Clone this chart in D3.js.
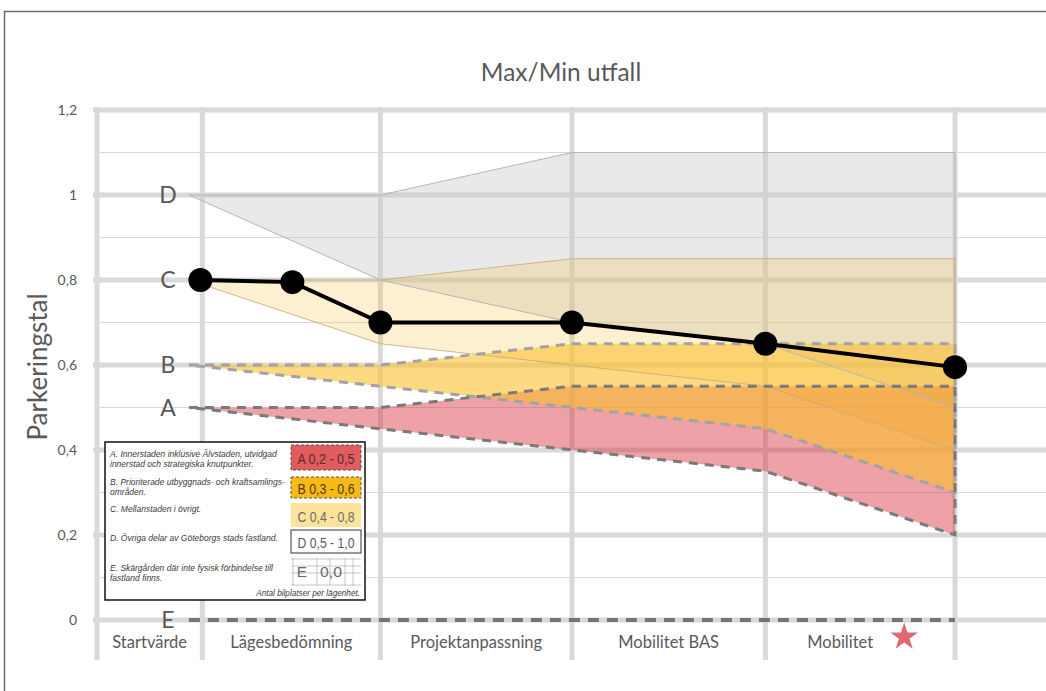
<!DOCTYPE html>
<html>
<head>
<meta charset="utf-8">
<script src="https://cdn.jsdelivr.net/npm/d3@7/dist/d3.min.js"></script>
<style>
  html, body { margin: 0; padding: 0; background: #fff; }
  svg { display: block; }
  text { font-family: "Lato", "Open Sans", sans-serif; }
  text.legend { font-family: "Liberation Sans", Arial, sans-serif; }
</style>
</head>
<body>
<svg id="chart" width="1046" height="691"></svg>
<script>
// ---- data ----
const stageNames = ["Startvärde", "Lägesbedömning", "Projektanpassning", "Mobilitet BAS", "Mobilitet"];
const stageEdges = [0, 0.55, 1.48, 2.48, 3.49, 4.48];      // stage boundaries on the x axis
const yTicks = [0, 0.2, 0.4, 0.6, 0.8, 1.0, 1.2];
const yMinor = [0.1, 0.3, 0.5, 0.7, 0.9, 1.1];

// zone bands (x positions shared by all bands)
const bandX = [0.48, 1.48, 2.48, 3.49, 4.48];
const dMax = [1.0, 1.0, 1.1, 1.1, 1.1];
const dMin = [1.0, 0.8, 0.7, 0.65, 0.5];
const cMax = [0.8, 0.8, 0.85, 0.85, 0.85];
const cMin = [0.8, 0.65, 0.6, 0.55, 0.4];
const bMax = [0.6, 0.6, 0.65, 0.65, 0.65];
const bMin = [0.6, 0.55, 0.5, 0.45, 0.3];
const aMax = [0.5, 0.5, 0.55, 0.55, 0.55];
const aMin = [0.5, 0.45, 0.4, 0.35, 0.2];
const eVal = [0, 0, 0, 0, 0];

// project path through the stages
const pathX = [0.54, 1.02, 1.48, 2.48, 3.49, 4.48];
const pathY = [0.8, 0.795, 0.7, 0.7, 0.65, 0.595];

const zoneLetters = ["D", "C", "B", "A", "E"];
const zoneStart = [1.0, 0.8, 0.6, 0.5, 0];

const legendDesc = [
  ["A. Innerstaden inklusive Älvstaden, utvidgad", "innerstad och strategiska knutpunkter."],
  ["B. Prioriterade utbyggnads- och kraftsamlings-", "områden."],
  ["C. Mellanstaden i övrigt."],
  ["D. Övriga delar av Göteborgs stads fastland."],
  ["E. Skärgården där inte fysisk förbindelse till", "fastland finns."]
];
const legendRange = ["A 0,2 - 0,5", "B 0,3 - 0,6", "C 0,4 - 0,8", "D 0,5 - 1,0", "0,0"];
const legendNote = "Antal bilplatser per lägenhet.";

// ---- layout ----
const svg = d3.select("#chart");
const x = d3.scaleLinear().domain([0, 4.48]).range([97, 955]);
const y = d3.scaleLinear().domain([0, 1.2]).range([620, 110]);
const fmt = v => d3.format(".1~f")(v).replace(".", ",");
const textCol = "#595959";
const gridCol = "#d9d9d9";

// frame
svg.append("path").attr("d", "M4.5,691 V11.5 H1046")
  .attr("fill", "none").attr("stroke", "#6b6b6b").attr("stroke-width", 1.5);

// gridlines
const grid = svg.append("g");
grid.selectAll(".minor").data(yMinor).join("line")
  .attr("x1", x(0) + 3).attr("x2", 1046)
  .attr("y1", d => y(d)).attr("y2", d => y(d))
  .attr("stroke", gridCol).attr("stroke-width", 1);
grid.selectAll(".major").data(yTicks).join("line")
  .attr("x1", x(0) - 4).attr("x2", 1046)
  .attr("y1", d => y(d)).attr("y2", d => y(d))
  .attr("stroke", gridCol).attr("stroke-width", 5);
grid.selectAll(".vert").data(stageEdges).join("line")
  .attr("x1", d => x(d)).attr("x2", d => x(d))
  .attr("y1", y(1.2) - 3).attr("y2", y(0) + 40)
  .attr("stroke", gridCol).attr("stroke-width", 5);

// bands
const zip = (lo, hi) => bandX.map((bx, i) => ({ x: bx, lo: lo[i], hi: hi[i] }));
const area = d3.area().x(d => x(d.x)).y0(d => y(d.lo)).y1(d => y(d.hi));
const outline = (lo, hi) => {
  const pts = bandX.map((bx, i) => [x(bx), y(hi[i])])
    .concat(bandX.slice().reverse().map((bx, j) => [x(bx), y(lo[lo.length - 1 - j])]));
  return d3.line()(pts) + "Z";
};
const bands = svg.append("g");
bands.append("path").attr("d", area(zip(dMin, dMax))).attr("fill", "#c8c8c8").attr("fill-opacity", 0.4);
bands.append("path").attr("d", area(zip(cMin, cMax))).attr("fill", "#f5c242").attr("fill-opacity", 0.25);
bands.append("path").attr("d", area(zip(aMin, aMax))).attr("fill", "#d9333f").attr("fill-opacity", 0.46);
bands.append("path").attr("d", area(zip(bMin, bMax))).attr("fill", "#fbc02d").attr("fill-opacity", 0.6);

bands.append("path").attr("d", outline(dMin, dMax)).attr("fill", "none")
  .attr("stroke", "#b5b5b5").attr("stroke-width", 1);
bands.append("path").attr("d", outline(cMin, cMax)).attr("fill", "none")
  .attr("stroke", "#c4a77a").attr("stroke-width", 0.8);
bands.append("path").attr("d", outline(bMin, bMax)).attr("fill", "none")
  .attr("stroke", "#a3a3a3").attr("stroke-width", 3).attr("stroke-dasharray", "9,7");
bands.append("path").attr("d", outline(aMin, aMax)).attr("fill", "none")
  .attr("stroke", "#7a7a7a").attr("stroke-width", 3).attr("stroke-dasharray", "9,7");

// zone E at zero
bands.append("path")
  .attr("d", d3.line().x((d, i) => x(bandX[i])).y(d => y(d))(eVal))
  .attr("fill", "none").attr("stroke", "#747474").attr("stroke-width", 4)
  .attr("stroke-dasharray", "11,8");

// project path
const pts = pathX.map((px, i) => [px, pathY[i]]);
svg.append("path")
  .attr("d", d3.line().x(d => x(d[0])).y(d => y(d[1]))(pts))
  .attr("fill", "none").attr("stroke", "#000").attr("stroke-width", 4);
svg.selectAll(".pt").data(pts).join("circle")
  .attr("cx", d => x(d[0])).attr("cy", d => y(d[1])).attr("r", 12).attr("fill", "#000");

// zone letters
svg.selectAll(".zl").data(zoneLetters).join("text")
  .attr("x", x(bandX[0]) - 21).attr("y", (d, i) => y(zoneStart[i]))
  .attr("dy", "0.36em").attr("text-anchor", "middle")
  .attr("font-size", 23).attr("fill", textCol).text(d => d);

// y tick labels
svg.selectAll(".yt").data(yTicks).join("text")
  .attr("x", 77).attr("y", d => y(d)).attr("dy", "0.35em")
  .attr("text-anchor", "end").attr("font-size", 14).attr("fill", textCol)
  .text(fmt);

// stage labels
svg.selectAll(".st").data(stageNames).join("text")
  .attr("x", (d, i) => (x(stageEdges[i]) + x(stageEdges[i + 1])) / 2 - (i === 4 ? 20 : 0))
  .attr("y", y(0) + 22).attr("dy", "0.35em").attr("text-anchor", "middle")
  .attr("font-size", 16.5).attr("fill", textCol).text(d => d);
svg.append("path")
  .attr("d", d3.symbol(d3.symbolStar, 236)())
  .attr("transform", `translate(${(x(stageEdges[4]) + x(stageEdges[5])) / 2 + 44},${y(0) + 17})`)
  .attr("fill", "#dd6a6f");

// title and axis title
svg.append("text").attr("x", 561).attr("y", 72).attr("dy", "0.35em")
  .attr("text-anchor", "middle").attr("font-size", 24.5).attr("fill", textCol)
  .text("Max/Min utfall");
svg.append("text").attr("transform", "translate(38,367) rotate(-90)").attr("dy", "0.35em")
  .attr("text-anchor", "middle").attr("font-size", 26).attr("fill", textCol)
  .text("Parkeringstal");

// legend
const L = svg.append("g").attr("transform", "translate(105,442)");
L.append("rect").attr("width", 260).attr("height", 158)
  .attr("fill", "#fff").attr("stroke", "#111").attr("stroke-width", 1.5);

const descY = [[12, 22], [40, 50], [67], [96], [126, 136]];
legendDesc.forEach((lines, i) => {
  lines.forEach((t, j) => {
    L.append("text").attr("class", "legend").attr("x", 5).attr("y", descY[i][j]).attr("dy", "0.35em")
      .attr("font-style", "italic")
      .attr("font-size", 8.5).attr("fill", "#3a3a3a").text(t);
  });
});
L.append("text").attr("class", "legend").attr("x", 255).attr("y", 151).attr("dy", "0.35em").attr("text-anchor", "end")
  .attr("font-style", "italic")
  .attr("font-size", 8.2).attr("fill", "#3a3a3a").text(legendNote);

const boxes = [
  { y: 3, h: 25, fill: "#e05c5f", stroke: "#555", dash: "3,2", col: "#5c2a2a" },
  { y: 35, h: 21, fill: "#f8b914", stroke: "#555", dash: "3,2", col: "#4d3a10" },
  { y: 61, h: 24, fill: "#fde39a", stroke: "none", dash: null, col: "#6a6a6a" },
  { y: 88, h: 23, fill: "#fff", stroke: "#333", dash: null, col: "#5a5a5a" }
];
boxes.forEach((b, i) => {
  L.append("rect").attr("x", 186).attr("y", b.y).attr("width", 70).attr("height", b.h)
    .attr("fill", b.fill).attr("stroke", b.stroke).attr("stroke-width", 1)
    .attr("stroke-dasharray", b.dash);
  L.append("text").attr("class", "legend").attr("x", 221).attr("y", b.y + b.h / 2 + 1).attr("dy", "0.36em")
    .attr("text-anchor", "middle")
    .attr("font-size", 15.5).attr("textLength", 57).attr("lengthAdjust", "spacingAndGlyphs")
    .attr("fill", b.col).text(legendRange[i]);
});
// E cell drawn as a small sheet grid
const eg = L.append("g").attr("stroke", "#b8b8b8").attr("stroke-width", 0.8);
[117, 124, 131, 143].forEach(gy => eg.append("line").attr("x1", 186).attr("x2", 256).attr("y1", gy).attr("y2", gy));
[188, 212, 225, 240, 248].forEach(gx => eg.append("line").attr("x1", gx).attr("x2", gx).attr("y1", 116).attr("y2", 144));
L.append("text").attr("class", "legend").attr("x", 197).attr("y", 129).attr("dy", "0.36em").attr("text-anchor", "middle")
  .attr("font-size", 15.5)
  .attr("fill", "#6a6a6a").text("E");
L.append("text").attr("class", "legend").attr("x", 226).attr("y", 129).attr("dy", "0.36em").attr("text-anchor", "middle")
  .attr("font-size", 15.5)
  .attr("textLength", 22).attr("lengthAdjust", "spacingAndGlyphs")
  .attr("fill", "#6a6a6a").text(legendRange[4]);
</script>
</body>
</html>
